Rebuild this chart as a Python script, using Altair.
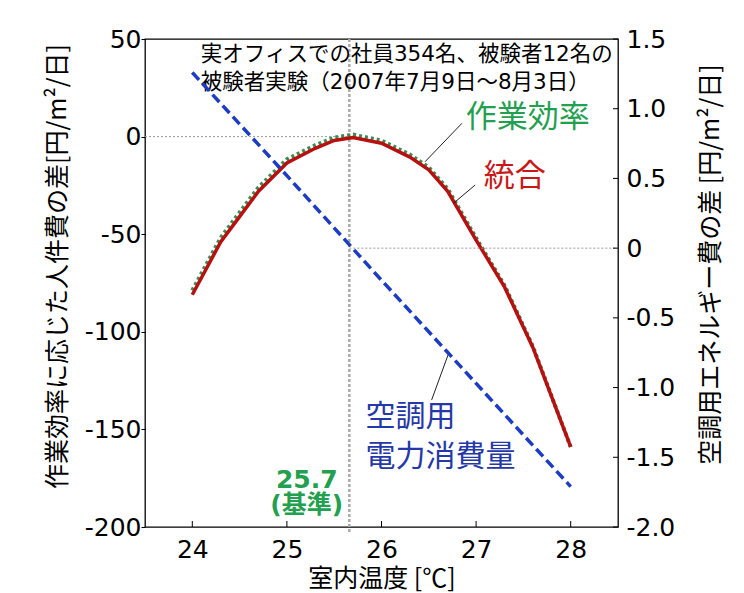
import altair as alt
import pandas as pd

# ---- data ----
temp = [24.0, 24.3, 24.5, 24.7, 25.0, 25.3, 25.5, 25.7, 26.0, 26.3, 26.5, 26.7, 27.0, 27.3, 27.6, 28.0]
integrated = [-81, -54, -41, -28, -13.5, -6, -2, -0.5, -3.4, -10.5, -17, -28, -53, -77, -108, -159]
productivity = [-78.8, -51.8, -38.8, -26.0, -11.6, -4.4, -0.5, 1.0, -2.0, -9.2, -15.8, -26.8, -52.0, -76.2, -107.5, -159.0]
energy_temp = [24.0, 25.0, 26.0, 27.0, 28.0]
energy = [1.26, 0.52, -0.23, -0.97, -1.71]

base_temp = 25.66
x_ticks = [24, 25, 26, 27, 28]
left_ticks = [-200, -150, -100, -50, 0, 50]
right_ticks = [-2.0, -1.5, -1.0, -0.5, 0.0, 0.5, 1.0, 1.5]

note_lines = ["実オフィスでの社員354名、被験者12名の", "被験者実験（2007年7月9日〜8月3日）"]
note_t = [24.09, 24.09]
note_v = [41.8, 27.3]

lbl_prod = "作業効率"; lbl_prod_t = 26.89; lbl_prod_v = 9.5
lbl_int = "統合"; lbl_int_t = 27.08; lbl_int_v = -20.5
lbl_ene = ["空調用", "電力消費量"]; lbl_ene_t = [25.83, 25.83]; lbl_ene_v = [-143.5, -164.0]
lbl_base = ["25.7", "(基準)"]; lbl_base_t = [25.21, 25.21]; lbl_base_v = [-175.9, -188.9]

leader_t = [26.85, 26.99, 26.53]
leader_v = [6.8, -24.8, -134.9]
leader_t2 = [26.46, 26.76, 26.71]
leader_v2 = [-12.9, -34.2, -111.0]

# ---- styles ----
JP = "Noto Sans CJK JP"
NUM = "DejaVu Sans, Noto Sans CJK JP"
RED = "#b81010"
RED_TXT = "#c81818"
GREEN_LINE = "#3c8c50"
GREEN_TXT = "#22a050"
BLUE_LINE = "#1c3cc4"
BLUE_TXT = "#2438a8"

W, H = 473, 488

xscale = alt.Scale(domain=[23.5, 28.5], nice=False, zero=False)
lscale = alt.Scale(domain=[-200, 50], nice=False, zero=False)
rscale = alt.Scale(domain=[-2.0, 1.5], nice=False, zero=False)

xaxis = alt.Axis(values=x_ticks, ticks=False, domain=False, grid=False,
                 labelFont=NUM, labelFontSize=25, labelColor="black", labelPadding=10,
                 title="室内温度 [℃]", titleFont=JP, titleFontSize=25, titleFontWeight="normal",
                 titleColor="black", titleY=51, titleBaseline="middle")
laxis = alt.Axis(values=left_ticks, ticks=True, tickSize=4, tickColor="black", domain=False, grid=False,
                 labelFont=NUM, labelFontSize=25, labelColor="black", labelPadding=0,
                 labelExpr="replace(datum.label, '−', '-')",
                 title="作業効率に応じた人件費の差[円/m²/日]", titleFont=JP, titleFontSize=25,
                 titleFontWeight="normal", titleColor="black", titleAngle=270,
                 titleX=-88, titleY=227, titleAlign="center", titleBaseline="middle")
raxis = alt.Axis(values=right_ticks, orient="right", ticks=False, domain=False, grid=False,
                 labelFont=NUM, labelFontSize=25, labelColor="black", labelPadding=8,
                 labelExpr="datum.value == 0 ? '0' : replace(format(datum.value, '.1f'), '−', '-')",
                 title="空調用エネルギー費の差 [円/m²/日]", titleFont=JP, titleFontSize=25,
                 titleFontWeight="normal", titleColor="black", titleAngle=270,
                 titleX=92, titleY=225, titleAlign="center", titleBaseline="middle")

X = alt.X("t:Q", scale=xscale, axis=xaxis)
YL = alt.Y("v:Q", scale=lscale, axis=laxis)
YR = alt.Y("e:Q", scale=rscale, axis=raxis)

# ---- left-scale layers ----
curve_df = pd.DataFrame({"t": temp, "v": integrated})
prod_df = pd.DataFrame({"t": temp, "v": productivity})

zero_left = alt.Chart(pd.DataFrame({"t": [23.5], "t2": [base_temp], "v": [0]})).mark_rule(
    color="#9a9a9a", strokeWidth=1, strokeDash=[2, 2]).encode(x=X, x2="t2:Q", y=YL)

vline = alt.Chart(pd.DataFrame({"t": [base_temp]})).mark_rule(
    color="#aaaaaa", strokeWidth=2.5, strokeDash=[3, 2]).encode(
    x=X, y=alt.value(0), y2=alt.value(H + 5))

x_tick_marks = alt.Chart(pd.DataFrame({"t": x_ticks})).mark_rule(color="black", strokeWidth=1).encode(
    x=X, y=alt.value(H - 6), y2=alt.value(H))

green_line = alt.Chart(prod_df).mark_line(color=GREEN_LINE, strokeWidth=4, strokeDash=[3, 3]).encode(x=X, y=YL)
red_line = alt.Chart(curve_df).mark_line(color=RED, strokeWidth=3.5).encode(x=X, y=YL)

leaders = alt.Chart(pd.DataFrame({"t": leader_t, "v": leader_v, "t2": leader_t2, "v2": leader_v2})).mark_rule(
    color="#222222", strokeWidth=1).encode(x=X, y=YL, x2="t2:Q", y2="v2:Q")

note = alt.Chart(pd.DataFrame({"t": note_t, "v": note_v, "label": note_lines})).mark_text(
    align="left", baseline="middle", font=NUM, fontSize=21.5, color="black").encode(x=X, y=YL, text="label:N")

txt_prod = alt.Chart(pd.DataFrame({"t": [lbl_prod_t], "v": [lbl_prod_v], "label": [lbl_prod]})).mark_text(
    align="left", baseline="middle", font=JP, fontSize=31, color=GREEN_TXT).encode(x=X, y=YL, text="label:N")
txt_int = alt.Chart(pd.DataFrame({"t": [lbl_int_t], "v": [lbl_int_v], "label": [lbl_int]})).mark_text(
    align="left", baseline="middle", font=JP, fontSize=31, color=RED_TXT).encode(x=X, y=YL, text="label:N")
txt_ene = alt.Chart(pd.DataFrame({"t": lbl_ene_t, "v": lbl_ene_v, "label": lbl_ene})).mark_text(
    align="left", baseline="middle", font=JP, fontSize=30, color=BLUE_TXT).encode(x=X, y=YL, text="label:N")
txt_base = alt.Chart(pd.DataFrame({"t": lbl_base_t, "v": lbl_base_v, "label": lbl_base})).mark_text(
    align="center", baseline="middle", font=NUM, fontSize=25, fontWeight="bold", color=GREEN_TXT).encode(
    x=X, y=YL, text="label:N")

left_layer = alt.layer(zero_left, vline, x_tick_marks, green_line, red_line, leaders,
                       note, txt_prod, txt_int, txt_ene, txt_base)

# ---- right-scale layers ----
zero_right = alt.Chart(pd.DataFrame({"t": [base_temp], "t2": [28.5], "e": [0]})).mark_rule(
    color="#9a9a9a", strokeWidth=1, strokeDash=[2, 2]).encode(x=X, x2="t2:Q", y=YR)
blue_line = alt.Chart(pd.DataFrame({"t": energy_temp, "e": energy})).mark_line(
    color=BLUE_LINE, strokeWidth=3.5, strokeDash=[10, 5]).encode(x=X, y=YR)
r_tick_marks = alt.Chart(pd.DataFrame({"e": right_ticks})).mark_rule(color="black", strokeWidth=1).encode(
    y=YR, x=alt.value(W - 5), x2=alt.value(W))

right_layer = alt.layer(zero_right, blue_line, r_tick_marks)

chart = alt.layer(left_layer, right_layer).resolve_scale(y="independent").properties(
    width=W, height=H,
    autosize=alt.AutoSizeParams(type="none"),
    padding={"left": 145, "top": 39, "right": 126, "bottom": 66},
    background="white",
).configure_view(stroke="black", strokeWidth=1.3)

chart.save("out.html", embed_options={"renderer": "svg", "actions": False})
